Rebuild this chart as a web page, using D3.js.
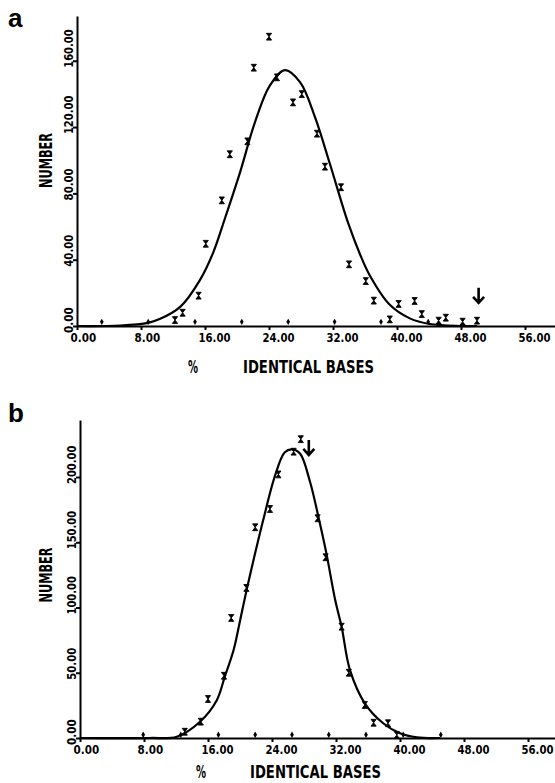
<!DOCTYPE html>
<meta charset="utf-8">
<head>
  <title>Identical bases</title>
</head>
<style>
body {
  margin: 0;
  background: #fff;
}
svg {
  display: block;
}
.axis path, .axis line {
  stroke: #000;
  stroke-width: 2;
}
.axis text {
  font-family: "DejaVu Sans Condensed", "DejaVu Sans", sans-serif;
  font-weight: bold;
  font-size: 11.5px;
  fill: #000;
}
.fit {
  fill: none;
  stroke: #000;
  stroke-width: 2.2;
}
.obs {
  fill: #000;
  stroke: #000;
  stroke-width: 0.9;
}
.dot {
  fill: #000;
}
.arrow {
  fill: none;
  stroke: #000;
  stroke-width: 2.6;
}
.title {
  font-family: "DejaVu Sans Condensed", "DejaVu Sans", sans-serif;
  font-weight: bold;
  fill: #000;
}
.panel-label {
  font-family: "Liberation Sans", Arial, sans-serif;
  font-weight: bold;
  font-size: 26px;
  fill: #000;
}
</style>
<body>
<svg width="555" height="783"></svg>

<script src="https://cdnjs.cloudflare.com/ajax/libs/d3/7.8.5/d3.min.js"></script>
<script>
var xTicks = [0, 8, 16, 24, 32, 40, 48, 56];
var yTicksA = [0, 40, 80, 120, 160];
var yTicksB = [0, 50, 100, 150, 200];

// panel a: observed counts (% identical, number)
var obsA = [
  [12.25, 3.6], [13.2, 8.0], [15.2, 18.3], [16.1, 49.6], [18.1, 75.8],
  [19.1, 103.6], [21.3, 111.4], [22.1, 155.8], [24.0, 174.5], [25.0, 150.0],
  [27.0, 134.9], [28.1, 139.9], [30.0, 116.0], [31.0, 96.1], [33.0, 83.7],
  [34.0, 37.2], [36.1, 27.1], [37.1, 15.3], [39.1, 4.0], [40.2, 13.3],
  [42.2, 15.1], [43.1, 7.2], [45.2, 3.2], [46.1, 5.0], [48.2, 2.6], [50.0, 3.2]
];
var dotsA = [[3.1, 2.5], [8.9, 2.5], [14.75, 2.5], [20.6, 2.5], [26.4, 2.5], [32.2, 2.5], [38.0, 2.5], [43.9, 2.5]];
var fitA = [
  [0, 0], [5.4, 0.3], [8.9, 1.9], [10.4, 4.3], [12.9, 11.5], [15.4, 28], [17.0, 44],
  [18.5, 65], [20.4, 93], [22.25, 123], [24.1, 145], [26.0, 154.4], [27.9, 147],
  [29.75, 126], [31.6, 98], [33.9, 62], [35.4, 43], [36.6, 30.5], [39.1, 12.8],
  [41.6, 4.6], [44.1, 1.2], [47.9, 0], [50, 0]
];
var arrowA = [50.2, 14];

// panel b
var obsB = [
  [13.1, 4.8], [15.1, 12.5], [16.0, 29.9], [18.0, 47.7], [18.9, 92], [20.8, 115],
  [21.9, 161.5], [23.75, 175.5], [24.8, 202], [26.7, 219.4], [27.6, 229],
  [29.7, 168.4], [30.7, 138.5], [32.7, 85.3], [33.6, 50], [35.6, 25.3],
  [36.7, 11.7], [38.5, 11.3], [39.6, 2.3]
];
var dotsB = [[7.9, 2.5], [12.6, 2.5], [17.3, 2.5], [21.9, 2.5], [26.5, 2.5], [31.1, 2.5], [35.75, 2.5], [40.4, 2.5], [45.1, 2.5]];
var fitB = [
  [0, 0], [8.75, 0], [12.1, 1], [15, 12.5], [17.1, 29], [18.1, 47], [19.2, 67.4],
  [20, 89.7], [20.9, 115.3], [22.9, 167], [24.4, 201.5], [25.6, 219], [26.5, 221.2],
  [27.5, 218], [28.75, 196.4], [29.8, 169.6], [30.8, 141.5], [31.9, 105.7],
  [32.7, 85.3], [33.75, 52], [35.6, 26.6], [37.9, 11.3], [40, 3.6], [42.1, 0.5], [45, 0]
];
var arrowB = [28.6, 216.9];

var svg = d3.select('svg');
var hourglass = 'M-2.6,-3.4H2.6L-2.6,3.4H2.6Z';

function drawPanel(p) {
  var g = svg.append('g');
  var x = d3.scaleLinear().domain([0, p.xMax]).range([p.left, 555]);
  var y = d3.scaleLinear().domain([0, p.yMax]).range([p.bottom, p.top]);

  var xa = g.append('g')
    .attr('class', 'axis')
    .attr('transform', 'translate(0,' + p.bottom + ')')
    .call(d3.axisBottom(x).tickValues(xTicks).tickSize(4).tickSizeOuter(0).tickFormat(d3.format('.2f')));
  xa.selectAll('text')
    .attr('x', -7)
    .attr('y', 16)
    .attr('dy', null)
    .attr('text-anchor', 'start')
    .attr('textLength', function() { return this.textContent.length * 6.4; })
    .attr('lengthAdjust', 'spacingAndGlyphs');

  var ya = g.append('g')
    .attr('class', 'axis')
    .attr('transform', 'translate(' + p.left + ',0)')
    .call(d3.axisLeft(y).tickValues(p.yTicks).tickSize(4).tickSizeOuter(0).tickFormat(d3.format('.2f')));
  ya.selectAll('text')
    .attr('transform', 'rotate(-90)')
    .attr('x', -6.5)
    .attr('y', -4.5)
    .attr('dy', null)
    .attr('text-anchor', 'start')
    .attr('textLength', function() { return this.textContent.length * 6.4; })
    .attr('lengthAdjust', 'spacingAndGlyphs');

  // fitted curve
  g.append('path')
    .datum(p.fit)
    .attr('class', 'fit')
    .attr('d', d3.line()
      .x(function(d) { return x(d[0]); })
      .y(function(d) { return Math.min(y(d[1]), p.bottom); })
      .curve(d3.curveCatmullRom.alpha(0.5)));

  g.selectAll('.dot')
    .data(p.dots)
    .join('path')
    .attr('class', 'dot')
    .attr('d', d3.symbol(d3.symbolDiamond, 12))
    .attr('transform', function(d) { return 'translate(' + x(d[0]) + ',' + y(d[1]) + ')'; });

  g.selectAll('.obs')
    .data(p.obs)
    .join('path')
    .attr('class', 'obs')
    .attr('d', hourglass)
    .attr('transform', function(d) { return 'translate(' + x(d[0]) + ',' + y(d[1]) + ')'; });

  // arrow
  var ax = x(p.arrow[0]), ay = y(p.arrow[1]);
  g.append('path')
    .attr('class', 'arrow')
    .attr('d', 'M' + ax + ',' + (ay - 15) + 'V' + ay + 'M' + (ax - 5.5) + ',' + (ay - 6) + 'L' + ax + ',' + ay + 'L' + (ax + 5.5) + ',' + (ay - 6));

  // axis titles
  g.append('text')
    .attr('class', 'title')
    .attr('transform', 'translate(52,' + p.numberY + ') rotate(-90)')
    .attr('text-anchor', 'middle')
    .attr('font-size', 18)
    .attr('textLength', 55)
    .attr('lengthAdjust', 'spacingAndGlyphs')
    .text('NUMBER');

  g.append('text')
    .attr('class', 'title')
    .attr('x', p.pctX)
    .attr('y', p.titleY)
    .attr('font-size', 17)
    .attr('textLength', 10)
    .attr('lengthAdjust', 'spacingAndGlyphs')
    .text('%');

  g.append('text')
    .attr('class', 'title')
    .attr('x', p.titleX)
    .attr('y', p.titleY)
    .attr('font-size', 17)
    .attr('textLength', 131)
    .attr('lengthAdjust', 'spacingAndGlyphs')
    .text('IDENTICAL BASES');

  g.append('text')
    .attr('class', 'panel-label')
    .attr('x', 8)
    .attr('y', p.labelY)
    .text(p.label);
}

drawPanel({
  label: 'a', labelY: 27,
  left: 77, bottom: 326, top: 16, xMax: 59.75, yMax: 187,
  yTicks: yTicksA, obs: obsA, dots: dotsA, fit: fitA, arrow: arrowA,
  numberY: 160.5, pctX: 188, titleX: 243, titleY: 373
});

drawPanel({
  label: 'b', labelY: 422,
  left: 80, bottom: 738, top: 420, xMax: 59.375, yMax: 243.7,
  yTicks: yTicksB, obs: obsB, dots: dotsB, fit: fitB, arrow: arrowB,
  numberY: 575, pctX: 196, titleX: 250, titleY: 778
});
</script>
</body>
</html>
